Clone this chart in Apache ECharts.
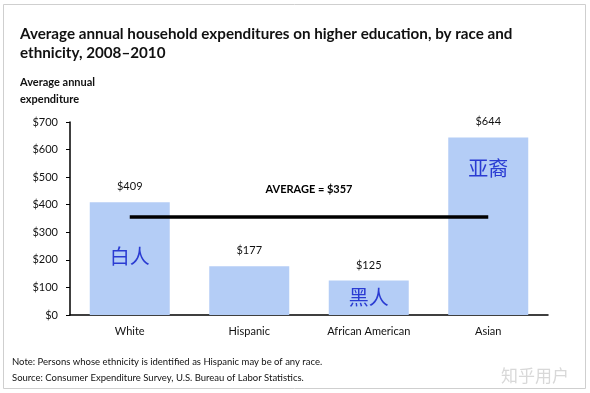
<!DOCTYPE html>
<html><head><meta charset="utf-8">
<script src="https://cdn.jsdelivr.net/npm/echarts@6/dist/echarts.min.js"></script>
<style>html,body{margin:0;padding:0;background:#fff}#c{width:590px;height:393px}</style>
</head><body><div id="c"></div>
<script>
const categories = ['White', 'Hispanic', 'African American', 'Asian'];
const values = [409, 177, 125, 644];
const averageValue = 357;
const yTicks = [0, 100, 200, 300, 400, 500, 600, 700];
const annotations = [
  { cat: 'White', value: 214, text: '白人' },
  { cat: 'African American', value: 65, text: '黑人' },
  { cat: 'Asian', value: 530, text: '亚裔' }
];
const titleText = 'Average annual household expenditures on higher education, by race and\nethnicity, 2008\u20132010';
const noteLines = ['Note: Persons whose ethnicity is identified as Hispanic may be of any race.',
  'Source: Consumer Expenditure Survey, U.S. Bureau of Labor Statistics.'];

const FONT = 'Lato, "Open Sans", sans-serif';
const chart = echarts.init(document.getElementById('c'));
chart.setOption({
  animation: false,
  graphic: [
    { type: 'rect', shape: { x: 3.5, y: 4.5, width: 582, height: 384 }, style: { fill: 'none', stroke: '#cfcfcf', lineWidth: 1 }, z: -1 },
    { type: 'text', left: 20, top: 25, style: { text: titleText, font: 'bold 15.2px ' + FONT, fill: '#111', lineHeight: 19 } },
    { type: 'text', left: 20, top: 74, style: { text: 'Average annual\nexpenditure', font: 'bold 11px ' + FONT, fill: '#111', lineHeight: 17 } },
    { type: 'text', left: 12, top: 354, style: { text: noteLines.join('\n'), font: '9.5px ' + FONT, fill: '#111', lineHeight: 16 } },
    { type: 'text', left: 501, top: 367, style: { text: '知乎用户', font: '17px "Noto Sans CJK SC"', fill: '#d8d8d8' } }
  ],
  grid: { left: 70, right: 42, top: 122, bottom: 78, containLabel: false },
  xAxis: {
    type: 'category', data: categories,
    axisLine: { lineStyle: { color: '#000', width: 1.5 } },
    axisTick: { show: false },
    axisLabel: { color: '#111', fontFamily: FONT, fontSize: 11, margin: 11 }
  },
  yAxis: {
    type: 'value', min: 0, max: 700, interval: 100,
    axisLine: { show: true, lineStyle: { color: '#000', width: 1.5 } },
    axisTick: { show: true, inside: false, length: 4, lineStyle: { color: '#000' } },
    splitLine: { show: false },
    axisLabel: { color: '#111', fontFamily: FONT, fontSize: 11, margin: 12,
      formatter: v => yTicks.includes(v) ? '$' + v : '' }
  },
  series: [{
    type: 'bar', data: values, barWidth: 80,
    itemStyle: { color: '#b4cdf6' },
    label: { show: true, position: 'top', distance: 10, color: '#111', fontFamily: FONT, fontSize: 11, formatter: p => '$' + p.value },
    markPoint: {
      symbol: 'circle', symbolSize: 0,
      label: { show: true, position: 'inside', color: '#2a3bd2', fontSize: 20, fontFamily: '"Noto Sans CJK SC"', formatter: p => p.name },
      data: annotations.map(a => ({ name: a.text, coord: [a.cat, a.value] }))
    },
    markLine: {
      silent: true, symbol: ['none', 'none'],
      lineStyle: { color: '#000', width: 3.5, type: 'solid' },
      label: { show: true, position: 'insideMiddleTop', distance: 22, color: '#000', fontWeight: 'bold', fontFamily: FONT, fontSize: 11,
        formatter: 'AVERAGE = $' + averageValue },
      data: [[{ coord: [categories[0], averageValue] }, { coord: [categories[3], averageValue] }]]
    }
  }]
});
</script></body></html>
